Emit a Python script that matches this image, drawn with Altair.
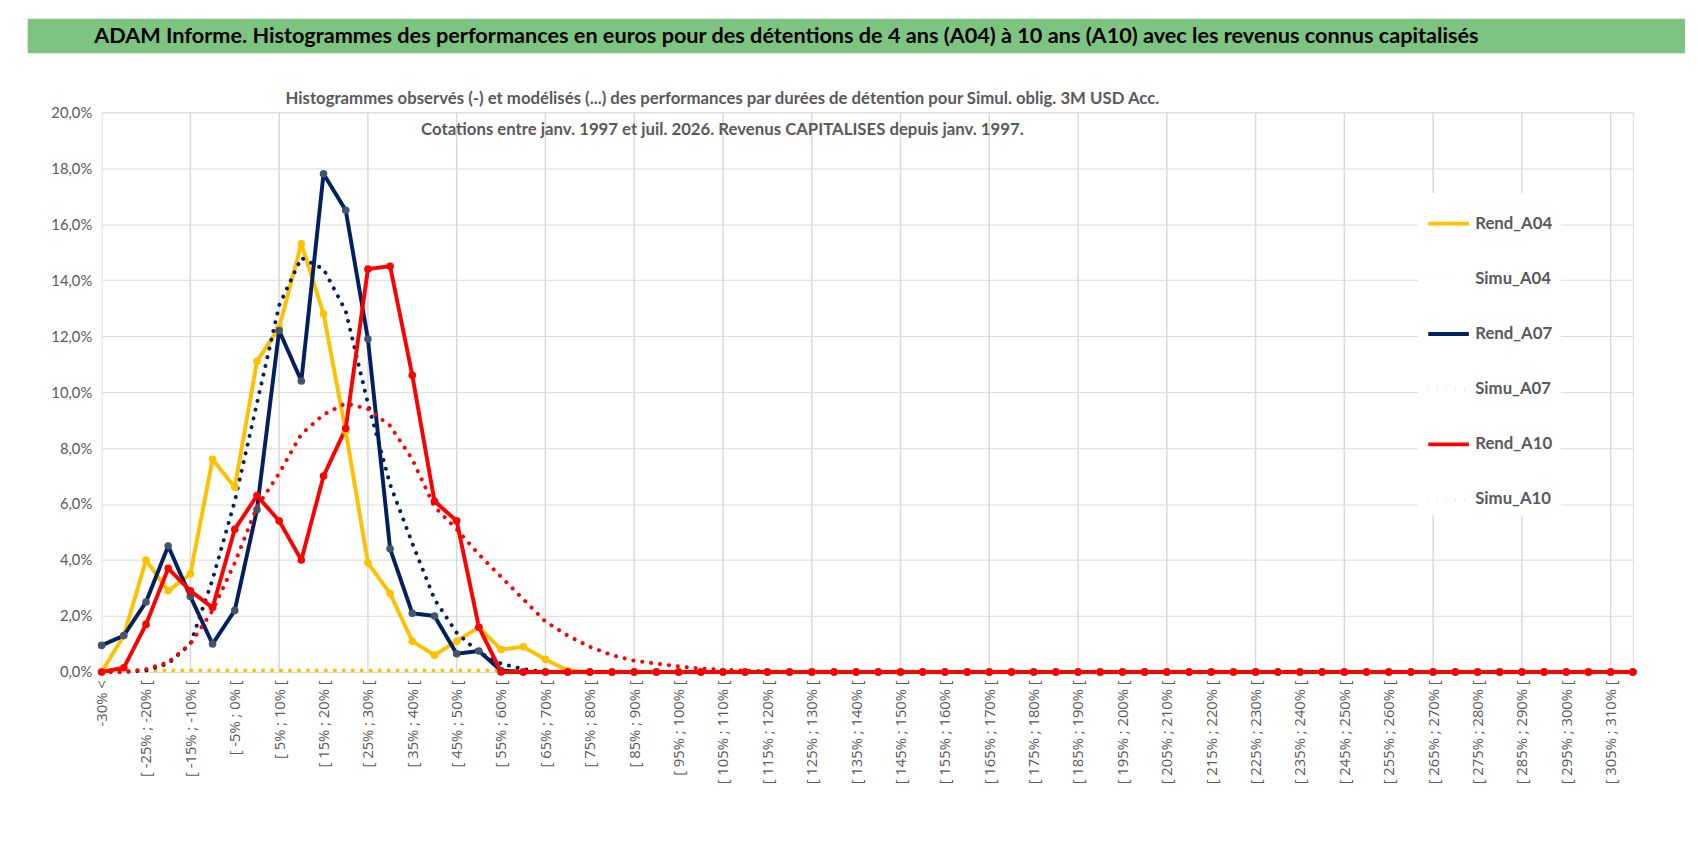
import json
import altair as alt
import pandas as pd

# categories (x axis): "-30% <" then 5% bins up to [310% ; 315% [
categories = ["-30% <"] + [f"[ {a}% ; {a + 5}% [" for a in range(-30, 315, 5)]
N = len(categories)


def pad(vals):
    return vals + [0.0] * (N - len(vals))


rend_a04 = pad([0.0, 1.3, 4.0, 2.9, 3.5, 7.6, 6.6, 11.1, 12.3, 15.3, 12.8, 8.6, 3.9, 2.8,
                1.1, 0.6, 1.1, 1.6, 0.8, 0.9, 0.45, 0.05])
simu_a04 = pad([0.05] * 20)
rend_a07 = pad([0.95, 1.3, 2.5, 4.5, 2.7, 1.0, 2.2, 5.8, 12.2, 10.4, 17.8, 16.5, 11.9, 4.4,
                2.1, 2.0, 0.65, 0.75, 0.05])
simu_a07 = pad([0.0, 0.0, 0.05, 0.3, 1.0, 3.3, 6.1, 9.6, 13.1, 14.8, 14.4, 12.9, 9.6, 6.7,
                4.6, 2.6, 1.4, 0.7, 0.3, 0.1])
rend_a10 = pad([0.0, 0.15, 1.7, 3.7, 2.9, 2.3, 5.1, 6.3, 5.4, 4.0, 7.0, 8.7, 14.4, 14.5,
                10.6, 6.1, 5.4, 1.6, 0.0])
simu_a10 = pad([0.0, 0.0, 0.1, 0.35, 1.0, 2.2, 3.9, 5.9, 7.1, 8.5, 9.2, 9.6, 9.4, 8.8,
                7.6, 5.9, 5.1, 4.2, 3.4, 2.6, 1.8, 1.3, 0.9, 0.6, 0.4, 0.3, 0.2, 0.12,
                0.08, 0.05, 0.03])

series = {
    "Rend_A04": rend_a04, "Simu_A04": simu_a04,
    "Rend_A07": rend_a07, "Simu_A07": simu_a07,
    "Rend_A10": rend_a10, "Simu_A10": simu_a10,
}
names = list(series)
line_colors = ["#FFC000", "#FFC000", "#002060", "#002060", "#FF0000", "#FF0000"]
point_colors = {"Rend_A04": "#FFC000", "Rend_A07": "#44546A", "Rend_A10": "#FF0000"}
dashes = [[1, 0], [0.1, 9], [1, 0], [0.1, 9], [1, 0], [0.1, 9]]

title_main = "ADAM Informe. Histogrammes des performances en euros pour des détentions de 4 ans (A04) à 10 ans (A10) avec les revenus connus capitalisés"
title_sub1 = "Histogrammes observés (-) et modélisés (...) des performances par durées de détention pour Simul. oblig. 3M USD Acc."
title_sub2 = "Cotations entre janv. 1997 et juil. 2026. Revenus CAPITALISES depuis janv. 1997."

rows = []
for name, vals in series.items():
    for i, v in enumerate(vals):
        rows.append({"idx": i, "serie": name, "val": v,
                     "pcolor": point_colors.get(name, "")})
df = pd.DataFrame(rows)

W, H = 1554, 568
grey = "#595959"

x_axis = alt.Axis(
    values=list(range(0, N, 2)), labelExpr=f"{json.dumps(categories)}[datum.value]",
    labelAngle=270, labelAlign="right", labelBaseline="middle", labelFontSize=15,
    labelFont="Open Sans", labelColor=grey, grid=False, domain=False, ticks=False,
    title=None, labelPadding=8,
)
y_axis = alt.Axis(
    values=list(range(0, 21, 2)), labelExpr="replace(format(datum.value,'.1f'),'.',',') + '%'",
    labelFontSize=15, labelFont="Lato", labelColor=grey, gridColor="#D9D9D9",
    domain=False, ticks=False, title=None, labelPadding=10,
)
xs = alt.Scale(domain=[0, N - 1], nice=False, zero=False)
ys = alt.Scale(domain=[0, 20], nice=False)

base = alt.Chart(df)

vgrid = alt.Chart(pd.DataFrame({"idx": list(range(4, N, 4))})).mark_rule(
    color="#D9D9D9", strokeWidth=1.5
).encode(x=alt.X("idx:Q", scale=xs, axis=x_axis), y=alt.value(0), y2=alt.value(H))

lines = base.mark_line(strokeWidth=4, strokeCap="round", strokeJoin="round").encode(
    x=alt.X("idx:Q", scale=xs, axis=x_axis),
    y=alt.Y("val:Q", scale=ys, axis=y_axis),
    color=alt.Color("serie:N", scale=alt.Scale(domain=names, range=line_colors),
                    legend=alt.Legend(
                        title=None, orient="none", legendX=1336, legendY=82,
                        symbolType="stroke", symbolSize=1700, symbolStrokeWidth=4,
                        labelFontSize=17, labelFont="Lato", labelFontWeight="bold",
                        labelColor=grey, rowPadding=25, fillColor="white", padding=8)),
    strokeDash=alt.StrokeDash("serie:N", scale=alt.Scale(domain=names, range=dashes)),
    order="idx:Q",
)

points = base.transform_filter("indexof(datum.serie, 'Rend') == 0").mark_circle(
    size=60, opacity=1
).encode(
    x=alt.X("idx:Q", scale=xs),
    y=alt.Y("val:Q", scale=ys),
    fill=alt.Fill("pcolor:N", scale=None),
)

bar = alt.Chart(pd.DataFrame({"t": [title_main]}))
green = bar.mark_rect(color="#7CC47F").encode(
    x=alt.value(-75), x2=alt.value(1607), y=alt.value(-95), y2=alt.value(-60)
)
main_title = bar.mark_text(fontSize=22, fontWeight="bold", font="Lato", color="black").encode(
    x=alt.value(695), y=alt.value(-77), text="t:N"
)
sub1 = alt.Chart(pd.DataFrame({"t": [title_sub1]})).mark_text(
    fontSize=17, fontWeight="bold", font="Lato", color=grey
).encode(x=alt.value(630), y=alt.value(-13), text="t:N")
sub2 = alt.Chart(pd.DataFrame({"t": [title_sub2]})).mark_text(
    fontSize=17, fontWeight="bold", font="Lato", color=grey
).encode(x=alt.value(630), y=alt.value(18), text="t:N")

chart = alt.layer(vgrid, lines, points, green, main_title, sub1, sub2).properties(
    width=W, height=H, padding={"left": 20, "top": 5, "right": 5, "bottom": 5},
).configure_view(stroke=None).configure(background="white")

chart.save("out.html", embed_options={"renderer": "svg", "actions": False})
